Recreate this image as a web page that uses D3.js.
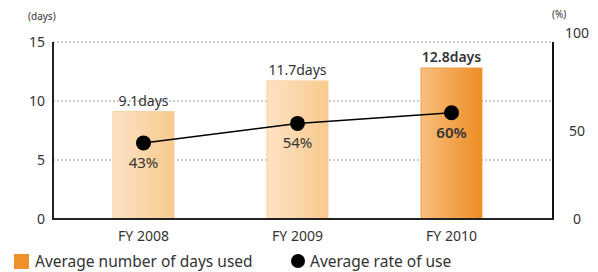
<!DOCTYPE html>
<html>
<head>
 <meta charset="UTF-8">
 <title>Days used and rate of use</title>
 <script src="https://d3js.org/d3.v7.min.js"></script>
 <style>
  body { margin: 0; background: #fff; }
  text { font-family: "Noto Sans", "Open Sans", sans-serif; fill: #333; }
 </style>
</head>
<body>
<script>
// data
var years = ["FY 2008", "FY 2009", "FY 2010"];
var daysUsed = [9.1, 11.7, 12.8];
var rateOfUse = [43, 54, 60];
var daysTicks = [0, 5, 10, 15];
var rateTicks = [0, 50, 100];

var width = 598, height = 272;
var plotLeft = 53, plotRight = 553, plotTop = 42, plotBottom = 219;

var svg = d3.select("body").append("svg")
    .attr("width", width)
    .attr("height", height);

var x = d3.scaleBand().domain(years).range([66.5, 528.5])
    .paddingInner(0.604).paddingOuter(0.302);
var yDays = d3.scaleLinear().domain([0, 15]).range([plotBottom, plotTop]);
var yRate = d3.scaleLinear().domain([0, 100]).range([plotBottom, plotTop]);

// gradients
var defs = svg.append("defs");
function grad(id, c0, c1) {
  var g = defs.append("linearGradient").attr("id", id)
      .attr("x1", "0%").attr("x2", "100%").attr("y1", "0%").attr("y2", "0%");
  g.append("stop").attr("offset", "0%").attr("stop-color", c0);
  g.append("stop").attr("offset", "100%").attr("stop-color", c1);
}
grad("light", "#fde2c4", "#f8ca8e");
grad("dark", "#f8bf7e", "#ee8c24");

// grid lines
svg.selectAll(".grid").data(daysTicks.filter(function(d) { return d > 0; }))
  .enter().append("line")
    .attr("x1", plotLeft).attr("x2", plotRight)
    .attr("y1", function(d) { return yDays(d); })
    .attr("y2", function(d) { return yDays(d); })
    .attr("stroke", "#999").attr("stroke-width", 1)
    .attr("stroke-dasharray", "2,2");

// bars
svg.selectAll(".bar").data(daysUsed).enter().append("rect")
    .attr("x", function(d, i) { return x(years[i]); })
    .attr("y", function(d) { return yDays(d); })
    .attr("width", x.bandwidth())
    .attr("height", function(d) { return plotBottom - yDays(d); })
    .attr("fill", function(d, i) { return i == 2 ? "url(#dark)" : "url(#light)"; })
    .attr("stroke", function(d, i) { return i == 2 ? "#f0a050" : "#f8cf9c"; })
    .attr("stroke-width", 1);

// bar labels
svg.selectAll(".blabel").data(daysUsed).enter().append("text")
    .attr("x", function(d, i) { return x(years[i]) + x.bandwidth() / 2; })
    .attr("y", function(d) { return yDays(d) - 6; })
    .attr("text-anchor", "middle")
    .style("font-size", "14px")
    .style("font-weight", function(d, i) { return i == 2 ? "600" : "normal"; })
    .text(function(d) { return d.toFixed(1) + "days"; });

// axes lines
svg.append("line").attr("x1", plotLeft).attr("x2", plotLeft).attr("y1", plotTop).attr("y2", plotBottom)
    .attr("stroke", "#222").attr("stroke-width", 2);
svg.append("line").attr("x1", plotRight).attr("x2", plotRight).attr("y1", plotTop).attr("y2", plotBottom)
    .attr("stroke", "#111").attr("stroke-width", 2);
svg.append("line").attr("x1", plotLeft - 1).attr("x2", plotRight + 1).attr("y1", plotBottom).attr("y2", plotBottom)
    .attr("stroke", "#222").attr("stroke-width", 2);

// tick labels
svg.selectAll(".ly").data(daysTicks).enter().append("text")
    .attr("x", 45).attr("y", function(d) { return yDays(d) + 5; })
    .attr("text-anchor", "end").style("font-size", "14px")
    .text(function(d) { return d; });
svg.selectAll(".ry").data(rateTicks).enter().append("text")
    .attr("x", 577).attr("y", function(d) { return d == 100 ? yRate(d) - 4 : yRate(d) + 5; })
    .attr("text-anchor", "middle").style("font-size", "14px")
    .text(function(d) { return d; });
svg.selectAll(".xl").data(years).enter().append("text")
    .attr("x", function(d) { return x(d) + x.bandwidth() / 2; })
    .attr("y", 241)
    .attr("text-anchor", "middle").style("font-size", "14px")
    .text(function(d) { return d; });

svg.append("text").attr("x", 28).attr("y", 20).style("font-size", "10px").text("(days)");
svg.append("text").attr("x", 552).attr("y", 18).style("font-size", "10px").text("(%)");

// rate line
var line = d3.line()
    .x(function(d, i) { return x(years[i]) + x.bandwidth() / 2; })
    .y(function(d) { return yRate(d); });
svg.append("path").datum(rateOfUse)
    .attr("d", line).attr("fill", "none")
    .attr("stroke", "#000").attr("stroke-width", 1.5);
svg.selectAll(".dot").data(rateOfUse).enter().append("circle")
    .attr("cx", function(d, i) { return x(years[i]) + x.bandwidth() / 2; })
    .attr("cy", function(d) { return yRate(d); })
    .attr("r", 7.5).attr("fill", "#000");
svg.selectAll(".rlabel").data(rateOfUse).enter().append("text")
    .attr("x", function(d, i) { return x(years[i]) + x.bandwidth() / 2; })
    .attr("y", function(d) { return yRate(d) + 25; })
    .attr("text-anchor", "middle")
    .style("font-size", "15px")
    .style("font-weight", function(d, i) { return i == 2 ? "600" : "normal"; })
    .text(function(d) { return d + "%"; });

// legend
svg.append("rect").attr("x", 14).attr("y", 254).attr("width", 15).attr("height", 15)
    .attr("fill", "#f0902a");
svg.append("text").attr("x", 35).attr("y", 267).style("font-size", "15.5px")
    .text("Average number of days used");
svg.append("circle").attr("cx", 298).attr("cy", 261).attr("r", 7).attr("fill", "#000");
svg.append("text").attr("x", 310).attr("y", 267).style("font-size", "15.5px")
    .text("Average rate of use");
</script>
</body>
</html>
